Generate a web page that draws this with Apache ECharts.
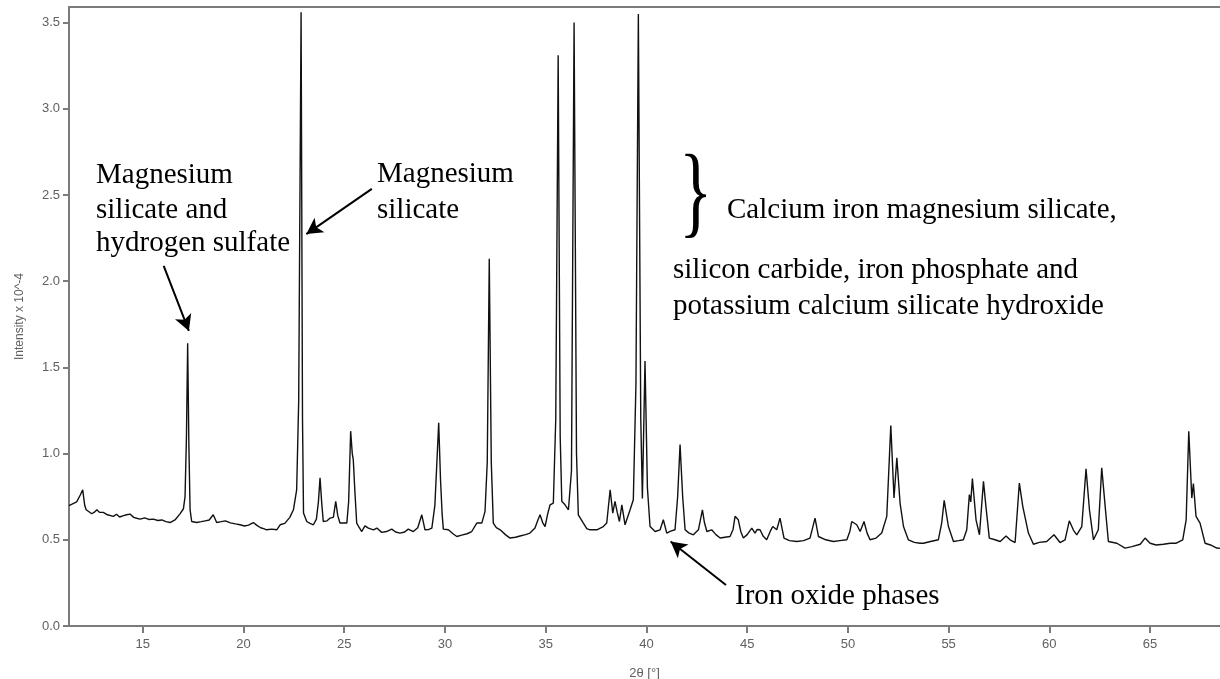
<!DOCTYPE html>
<html>
<head>
<meta charset="utf-8">
<script src="https://cdn.jsdelivr.net/npm/echarts@6/dist/echarts.min.js"></script>
<style>
html,body{margin:0;padding:0;background:#fff;}
#chart{width:1220px;height:679px;}
</style>
</head>
<body>
<div id="chart"></div>
<script>
// 2θ positions (degrees)
var twoTheta = [
11.34,11.72,11.90,12.02,12.12,12.19,12.47,12.60,12.72,12.85,13.04,13.25,13.54,13.70,13.85,14.05,14.20,14.37,14.55,14.70,
14.87,15.10,15.30,15.53,15.75,15.95,16.15,16.36,16.60,16.85,17.02,17.10,17.17,17.23,17.29,17.35,17.43,17.68,17.90,18.10,
18.30,18.50,18.67,18.90,19.10,19.35,19.60,19.83,20.05,20.25,20.49,20.65,20.85,21.00,21.15,21.40,21.65,21.82,22.05,22.30,
22.48,22.64,22.74,22.86,22.93,22.98,23.14,23.30,23.47,23.62,23.72,23.80,23.88,23.96,24.15,24.30,24.46,24.58,24.68,24.79,
25.13,25.22,25.32,25.40,25.45,25.53,25.62,25.75,25.87,26.03,26.20,26.45,26.62,26.86,27.10,27.36,27.55,27.77,28.00,28.18,
28.43,28.65,28.85,29.01,29.20,29.35,29.50,29.60,29.69,29.78,29.86,29.92,30.17,30.40,30.59,30.83,31.10,31.33,31.58,31.83,
31.99,32.10,32.20,32.30,32.40,32.55,32.74,33.00,33.23,33.50,33.73,34.00,34.22,34.47,34.60,34.72,34.85,34.97,35.10,35.22,
35.38,35.50,35.62,35.72,35.80,35.96,36.13,36.28,36.41,36.53,36.62,36.87,37.04,37.20,37.54,37.86,38.03,38.20,38.33,38.44,
38.55,38.66,38.78,38.94,39.19,39.35,39.48,39.60,39.72,39.80,39.85,39.93,40.05,40.18,40.43,40.68,40.84,41.01,41.20,41.42,
41.55,41.67,41.80,41.92,42.10,42.33,42.58,42.78,42.88,43.00,43.24,43.45,43.66,43.90,44.15,44.30,44.40,44.56,44.68,44.81,
45.00,45.23,45.39,45.50,45.64,45.80,45.97,46.15,46.27,46.47,46.63,46.83,47.10,47.46,47.80,48.12,48.37,48.54,48.90,49.28,
49.60,49.95,50.10,50.19,50.44,50.61,50.80,50.95,51.10,51.40,51.68,51.93,52.13,52.29,52.43,52.59,52.76,53.00,53.30,53.58,
53.75,54.10,54.49,54.66,54.78,54.99,55.24,55.50,55.73,55.90,56.03,56.10,56.18,56.36,56.53,56.73,56.86,57.02,57.30,57.56,
57.85,58.05,58.30,58.51,58.68,58.75,58.96,59.21,59.50,59.87,60.23,60.53,60.78,60.99,61.20,61.36,61.61,61.82,61.99,62.19,
62.43,62.60,62.77,62.93,63.35,63.76,64.10,64.51,64.75,65.00,65.30,65.66,66.00,66.30,66.62,66.79,66.92,67.07,67.15,67.28,
67.48,67.73,68.00,68.31,68.47
];
// Intensity x 10^-4
var intensity = [
0.698,0.72,0.76,0.79,0.70,0.674,0.651,0.66,0.674,0.66,0.659,0.645,0.636,0.648,0.632,0.64,0.645,0.649,0.63,0.625,
0.62,0.627,0.618,0.62,0.612,0.615,0.605,0.60,0.615,0.65,0.68,0.75,1.10,1.64,1.05,0.674,0.606,0.60,0.605,0.61,
0.615,0.645,0.60,0.605,0.61,0.598,0.592,0.587,0.58,0.585,0.60,0.585,0.57,0.565,0.558,0.562,0.558,0.587,0.595,0.63,
0.674,0.79,1.30,3.56,1.20,0.655,0.606,0.595,0.587,0.62,0.72,0.859,0.72,0.606,0.61,0.626,0.63,0.723,0.64,0.597,
0.597,0.72,1.13,1.00,0.965,0.78,0.597,0.57,0.548,0.581,0.568,0.558,0.568,0.543,0.548,0.562,0.545,0.539,0.545,0.562,
0.548,0.57,0.645,0.558,0.56,0.568,0.70,0.95,1.178,0.85,0.65,0.562,0.558,0.535,0.519,0.527,0.535,0.548,0.597,0.597,
0.665,0.95,2.13,0.95,0.597,0.57,0.558,0.53,0.51,0.515,0.522,0.53,0.539,0.568,0.61,0.645,0.60,0.577,0.65,0.703,
0.713,1.20,3.31,1.10,0.723,0.703,0.674,0.90,3.50,1.00,0.645,0.597,0.565,0.558,0.558,0.577,0.597,0.79,0.655,0.723,
0.66,0.606,0.703,0.587,0.674,0.732,1.40,3.55,1.20,0.74,0.732,1.537,0.80,0.577,0.548,0.558,0.616,0.539,0.55,0.558,
0.75,1.052,0.75,0.558,0.54,0.529,0.558,0.674,0.60,0.548,0.558,0.53,0.51,0.515,0.519,0.56,0.636,0.616,0.55,0.51,
0.53,0.568,0.539,0.56,0.558,0.52,0.50,0.55,0.577,0.558,0.626,0.51,0.495,0.49,0.495,0.51,0.626,0.519,0.50,0.49,
0.495,0.50,0.55,0.606,0.587,0.548,0.606,0.54,0.50,0.51,0.539,0.636,1.163,0.742,0.975,0.713,0.577,0.50,0.485,0.48,
0.48,0.49,0.50,0.60,0.729,0.577,0.49,0.495,0.50,0.558,0.762,0.72,0.855,0.616,0.529,0.839,0.684,0.51,0.50,0.49,
0.522,0.50,0.484,0.829,0.694,0.703,0.539,0.474,0.485,0.49,0.529,0.484,0.50,0.61,0.555,0.529,0.577,0.911,0.674,0.50,
0.558,0.917,0.694,0.49,0.48,0.452,0.46,0.474,0.51,0.48,0.47,0.474,0.48,0.48,0.50,0.616,1.13,0.742,0.826,0.636,
0.597,0.48,0.47,0.452,0.45
];
var xTicks = [15,20,25,30,35,40,45,50,55,60,65];
var yTicks = [0,0.5,1,1.5,2,2.5,3,3.5];
var xRange = [11.34, 68.47];
var yRange = [0, 3.59];
// annotation arrows: [from, to] in data coordinates
var arrowFromTo = [
  [[16.04, 2.089], [17.29, 1.711]],
  [[26.37, 2.535], [23.12, 2.273]],
  [[43.95, 0.238], [41.20, 0.49]]
];

var pairs = twoTheta.map(function (x, i) { return [x, intensity[i]]; });
var chart = echarts.init(document.getElementById('chart'), null, {renderer: 'canvas'});
var axisGray = '#7b7b7b';
var labelGray = '#606060';
var sans = '"Liberation Sans", Arial, sans-serif';
var serif = '"Liberation Serif", "Times New Roman", serif';
function txt(t, x, y) {
  return {type: 'text', left: x, top: y, silent: true,
    style: {text: t, fill: '#000', font: '29px ' + serif}};
}
chart.setOption({
  animation: false,
  backgroundColor: '#fff',
  grid: {left: 69, right: 0, top: 7, bottom: 53, show: false, containLabel: false, outerBoundsMode: 'none'},
  xAxis: [{
    type: 'value', min: xRange[0], max: xRange[1],
    name: '2θ [°]', nameLocation: 'middle', nameGap: 41,
    nameTextStyle: {color: labelGray, fontSize: 13, fontFamily: sans},
    axisLine: {show: true, lineStyle: {color: axisGray, width: 2}},
    axisTick: {show: true, length: 7, customValues: xTicks, lineStyle: {color: axisGray, width: 2}},
    axisLabel: {customValues: xTicks, color: labelGray, fontSize: 13, margin: 12, fontFamily: sans},
    splitLine: {show: false}
  }, {
    type: 'value', position: 'top', min: xRange[0], max: xRange[1],
    axisLine: {show: true, onZero: false, lineStyle: {color: axisGray, width: 2}},
    axisTick: {show: false}, axisLabel: {show: false}, splitLine: {show: false}
  }],
  yAxis: {
    type: 'value', min: yRange[0], max: yRange[1],
    name: 'Intensity x 10^-4', nameLocation: 'middle', nameGap: 43, nameRotate: 90,
    nameTextStyle: {color: labelGray, fontSize: 12, fontFamily: sans},
    axisLine: {show: true, lineStyle: {color: axisGray, width: 2}},
    axisTick: {show: true, length: 6, customValues: yTicks, lineStyle: {color: axisGray, width: 2}},
    axisLabel: {customValues: yTicks, color: labelGray, fontSize: 13, margin: 9, fontFamily: sans,
      formatter: function (v) { return v.toFixed(1); }},
    splitLine: {show: false}
  },
  series: [{
    type: 'line', data: pairs, symbol: 'none', smooth: false, xAxisIndex: 0,
    lineStyle: {color: '#111', width: 1.4},
    markLine: {
      silent: true, animation: false,
      symbol: ['none', 'arrow'], symbolSize: [13, 16],
      lineStyle: {color: '#000', width: 2, type: 'solid'},
      label: {show: false},
      data: arrowFromTo.map(function (a) { return [{coord: a[0]}, {coord: a[1]}]; })
    }
  }],
  graphic: [
    txt('Magnesium', 96, 161),
    txt('silicate and', 96, 196),
    txt('hydrogen sulfate', 96, 229),
    txt('Magnesium', 377, 160),
    txt('silicate', 377, 196),
    txt('Calcium iron magnesium silicate,', 727, 196),
    txt('silicon carbide, iron phosphate and', 673, 256),
    txt('potassium calcium silicate hydroxide', 673, 292),
    txt('Iron oxide phases', 735, 582),
    {type: 'text', left: 679, top: 146, silent: true, scaleX: 0.68,
      style: {text: '}', fill: '#000', font: '102px ' + serif}}
  ]
});
</script>
</body>
</html>
